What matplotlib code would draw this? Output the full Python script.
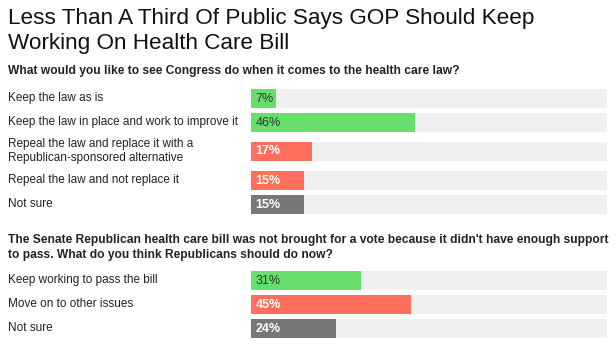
import matplotlib.pyplot as plt

# data
q1_title = "What would you like to see Congress do when it comes to the health care law?"
q1_labels = ["Keep the law as is",
             "Keep the law in place and work to improve it",
             "Repeal the law and replace it with a\nRepublican-sponsored alternative",
             "Repeal the law and not replace it",
             "Not sure"]
q1_values = [7, 46, 17, 15, 15]
q1_kinds = ["yes", "yes", "no", "no", "unsure"]

q2_title = ("The Senate Republican health care bill was not brought for a vote because it didn't have enough support\n"
            "to pass. What do you think Republicans should do now?")
q2_labels = ["Keep working to pass the bill", "Move on to other issues", "Not sure"]
q2_values = [31, 45, 24]
q2_kinds = ["yes", "no", "unsure"]

title = "Less Than A Third Of Public Says GOP Should Keep\nWorking On Health Care Bill"

colors = {"yes": "#67df6b", "no": "#ff6f5c", "unsure": "#777777"}
txtcol = {"yes": "#333333", "no": "white", "unsure": "white"}
weight = {"yes": "normal", "no": "bold", "unsure": "bold"}

plt.rcParams['font.family'] = ['Liberation Sans', 'DejaVu Sans']

W, H = 616, 350
fig = plt.figure(figsize=(W / 100, H / 100), dpi=100)

# full-figure axes for text, pixel coordinates
tax = fig.add_axes([0, 0, 1, 1])
tax.set_xlim(0, W)
tax.set_ylim(H, 0)
tax.axis('off')

# bar axes
bx0, bx1 = 251, 607
bax = fig.add_axes([bx0 / W, 0, (bx1 - bx0) / W, 1])
bax.set_xlim(0, 100)
bax.set_ylim(H, 0)
bax.axis('off')

tax.text(8, 8, title, fontsize=16.2, va='top', ha='left', color='#111111', linespacing=1.22)


def section(qtitle, labels, values, kinds, y_q, y_first):
    tax.text(8, y_q, qtitle, fontsize=8.62, fontweight='bold', va='top', ha='left',
             color='#222222', linespacing=1.35)
    y = y_first
    prev_h = None
    for lab, v, k in zip(labels, values, kinds):
        h = 34 if "\n" in lab else 24
        if prev_h is not None:
            y += prev_h / 2 + h / 2
        prev_h = h
        bax.barh(y, 100, height=19, color='#f0f0f0', left=0)
        bax.barh(y, v, height=19, color=colors[k], left=0)
        bax.text(1.2, y + 0.5, f"{v}%", fontsize=9, color=txtcol[k], fontweight=weight[k],
                 va='center', ha='left')
        tax.text(8, y, lab, fontsize=8.5, color='#222222', va='center', ha='left', linespacing=1.15)


section(q1_title, q1_labels, q1_values, q1_kinds, 65, 98)
section(q2_title, q2_labels, q2_values, q2_kinds, 234, 280)

fig.savefig("out.png", dpi=100)
